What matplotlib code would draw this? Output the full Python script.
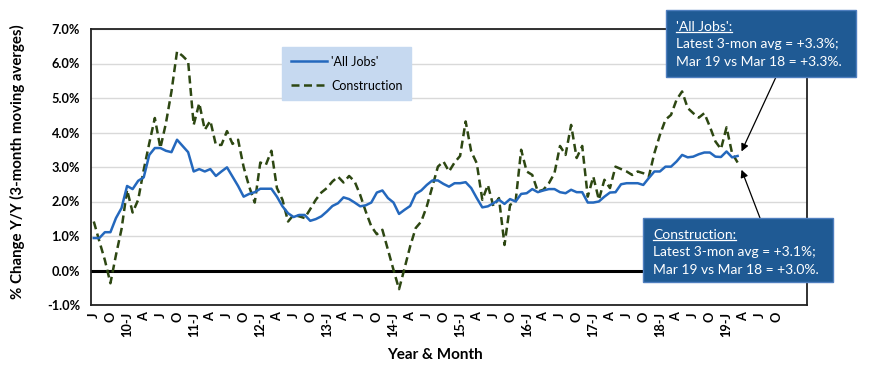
import numpy as np
import matplotlib
matplotlib.use("Agg")
import matplotlib.pyplot as plt
from matplotlib.patches import Rectangle
from matplotlib.lines import Line2D

# --- Data: 3-month moving averages, % change Y/Y, Jul 2009 .. Mar 2019 ---
all_jobs = [
    0.94, 0.94, 1.11, 1.11, 1.52, 1.81, 2.45, 2.36, 2.60, 2.70,
    3.35, 3.55, 3.55, 3.47, 3.43, 3.79, 3.61, 3.43, 2.87, 2.94,
    2.87, 2.94, 2.74, 2.87, 2.99, 2.72, 2.45, 2.14, 2.22, 2.27,
    2.37, 2.37, 2.37, 2.14, 1.86, 1.66, 1.55, 1.61, 1.61, 1.44,
    1.49, 1.57, 1.71, 1.87, 1.95, 2.12, 2.07, 1.97, 1.86, 1.89,
    1.97, 2.26, 2.32, 2.10, 1.97, 1.64, 1.76, 1.87, 2.22, 2.32,
    2.48, 2.61, 2.61, 2.51, 2.43, 2.53, 2.53, 2.56, 2.39, 2.10,
    1.83, 1.86, 1.95, 2.05, 1.93, 2.07, 2.00, 2.22, 2.24, 2.36,
    2.27, 2.32, 2.36, 2.36, 2.27, 2.24, 2.34, 2.27, 2.27, 1.97,
    1.97, 2.00, 2.14, 2.26, 2.27, 2.50, 2.53, 2.53, 2.53, 2.48,
    2.68, 2.87, 2.87, 3.01, 3.01, 3.16, 3.35, 3.28, 3.30, 3.37,
    3.42, 3.42, 3.30, 3.29, 3.45, 3.28, 3.32,
]
construction = [
    1.42, 0.85, 0.30, -0.37, 0.45, 1.20, 2.34, 1.68, 2.05, 2.92,
    3.69, 4.42, 3.55, 4.27, 5.19, 6.35, 6.22, 6.06, 4.22, 4.85,
    4.08, 4.34, 3.64, 3.64, 4.04, 3.67, 3.79, 3.00, 2.43, 1.97,
    3.13, 3.06, 3.47, 2.39, 2.05, 1.42, 1.61, 1.57, 1.52, 1.78,
    2.05, 2.26, 2.39, 2.58, 2.72, 2.55, 2.74, 2.58, 2.19, 1.71,
    1.28, 1.05, 1.18, 0.60, 0.02, -0.54, 0.07, 0.70, 1.23, 1.42,
    1.86, 2.43, 3.01, 3.16, 2.87, 3.13, 3.32, 4.32, 3.45, 3.11,
    2.05, 2.48, 1.86, 2.10, 0.74, 1.90, 2.00, 3.50, 2.87, 2.77,
    2.29, 2.34, 2.53, 2.82, 3.61, 3.35, 4.22, 3.26, 3.61, 2.14,
    2.72, 2.05, 2.63, 2.39, 3.01, 2.94, 2.87, 2.77, 2.87, 2.82,
    2.72, 3.40, 3.93, 4.37, 4.51, 4.95, 5.19, 4.71, 4.56, 4.43,
    4.56, 4.17, 3.74, 3.52, 4.15, 3.40, 3.13,
]
n_categories = 129  # Jul 2009 .. Mar 2020 on the category axis
tick_labels = [
    "J", "O",
    "10-J", "A", "J", "O", "11-J", "A", "J", "O", "12-J", "A", "J", "O",
    "13-J", "A", "J", "O", "14-J", "A", "J", "O", "15-J", "A", "J", "O",
    "16-J", "A", "J", "O", "17-J", "A", "J", "O", "18-J", "A", "J", "O",
    "19-J", "A", "J", "O",
]
y_ticks = [-1, 0, 1, 2, 3, 4, 5, 6, 7]

BLUE = "#2468bd"
GREEN = "#2d4712"
BOX = "#1f5a94"
W, H = 870, 372

def fx(px):
    return px / W

def fy(py):
    return 1 - py / H

fig = plt.figure(figsize=(8.7, 3.72), dpi=100)
ax = fig.add_axes([fx(91), fy(305), fx(807) - fx(91), fy(29) - fy(305)])

x = np.arange(len(all_jobs))
ax.plot(x, all_jobs, color=BLUE, lw=1.8, label="'All Jobs'", zorder=4)
ax.plot(x, construction, color=GREEN, lw=1.8, ls=(0, (3.2, 1.8)),
        label="Construction", zorder=3)

ax.set_xlim(-0.5, n_categories - 0.5)
ax.set_ylim(-1, 7)
ax.set_yticks(y_ticks)
ax.set_yticklabels([f"{v:.1f}%" for v in y_ticks])
ax.set_xticks(np.arange(0, 3 * len(tick_labels), 3))
ax.set_xticklabels(tick_labels, rotation=90)
ax.tick_params(length=0)
ax.tick_params(axis="y", pad=8)
ax.tick_params(axis="x", pad=5)
for lab in ax.get_xticklabels() + ax.get_yticklabels():
    lab.set_fontfamily("Lato")
    lab.set_fontweight("bold")
    lab.set_fontsize(9.2)

ax.grid(axis="y", color="#d9d9d9", lw=1)
ax.set_axisbelow(True)
ax.axhline(0, color="black", lw=2.2, zorder=2)
for s in ax.spines.values():
    s.set_color("#222222")
    s.set_linewidth(1.3)

ax.set_ylabel("% Change Y/Y (3-month moving averges)", fontfamily="Lato",
              fontweight="bold", fontsize=10.8, va="center", ha="center")
ax.yaxis.set_label_coords(-0.102, 0.52)
ax.set_xlabel("Year & Month", fontfamily="Lato", fontweight="bold",
              fontsize=11, va="center", ha="center")
ax.xaxis.set_label_coords(0.48, -0.181)

leg = ax.legend(loc="upper left", bbox_to_anchor=(0.267, 0.935),
                borderaxespad=0, frameon=True, fancybox=False,
                handlelength=2.9, handletextpad=0.3, labelspacing=0.95,
                borderpad=0.7, prop={"family": "Lato", "size": 9})
leg.get_frame().set_facecolor("#c6d9f0")
leg.get_frame().set_edgecolor("#c6d9f0")
leg.get_frame().set_alpha(1)

# --- annotation boxes ---
def note_box(x0, y0, x1, y1, lines, arrow_from, arrow_to):
    fig.add_artist(Rectangle((fx(x0), fy(y1)), fx(x1) - fx(x0), fy(y0) - fy(y1),
                             transform=fig.transFigure, fc=BOX, ec="#4f7fbf",
                             lw=1, zorder=10))
    texts = []
    for k, s in enumerate(lines):
        t = fig.text(fx(x0 + 10), fy(y0 + 17 + 17.5 * k), s, color="white",
                     fontfamily="Lato", fontsize=10, va="center", ha="left",
                     zorder=11)
        texts.append(t)
    ax.annotate("", xy=arrow_to, xycoords="data",
                xytext=(fx(arrow_from[0]), fy(arrow_from[1])),
                textcoords="figure fraction",
                arrowprops=dict(arrowstyle="-|>", color="black", lw=0.9,
                                mutation_scale=11, shrinkA=0, shrinkB=0),
                zorder=9)
    return texts[0]

t1 = note_box(666, 10, 856, 77,
              ["'All Jobs':", "Latest 3-mon avg = +3.3%;",
               "Mar 19 vs Mar 18 = +3.3%."],
              (776, 77), (116.7, 3.45))
t2 = note_box(643, 218, 833, 282,
              ["Construction:", "Latest 3-mon avg = +3.1%;",
               "Mar 19 vs Mar 18 = +3.0%."],
              (760, 218), (116.7, 2.92))

# underline the first line of each box
fig.canvas.draw()
inv = fig.transFigure.inverted()
for t in (t1, t2):
    bb = t.get_window_extent().transformed(inv)
    yl = bb.y0 + 1.5 / H
    fig.add_artist(Line2D([bb.x0, bb.x1], [yl, yl], transform=fig.transFigure,
                          color="white", lw=0.9, zorder=12))

fig.savefig("out.png", dpi=100)
